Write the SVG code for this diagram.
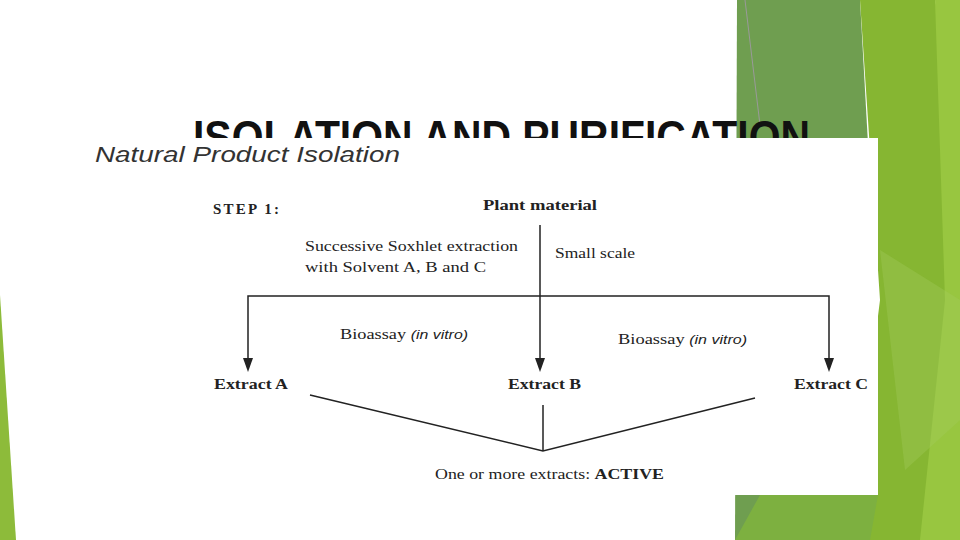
<svg xmlns="http://www.w3.org/2000/svg" width="960" height="540" viewBox="0 0 960 540">
<style>
.s{font-family:"Liberation Serif",serif;font-size:15px;fill:#222}
.b{font-weight:bold}
.i{font-family:"Liberation Sans",sans-serif;font-style:italic;font-size:13px}
.ln{stroke:#222;stroke-width:1.5;fill:none}
.ah{fill:#222}
</style>
<rect width="960" height="540" fill="#fff"/>
<g id="deco">
<polygon points="737,0 860,0 890,540 735,540" fill="#6F9E50"/>
<polygon points="860,0 935,0 960,120 960,540 850,540 880,300" fill="#86B632"/>
<polygon points="935,0 960,0 960,540 920,540 945,300" fill="#98C640"/>
<polygon points="880,250 960,300 960,420 905,470" fill="#A3CC5E" opacity="0.35"/>
<line x1="745" y1="0" x2="760" y2="125" stroke="#999" stroke-width="1"/>
<polygon points="0,295 16,540 0,540" fill="#8DBB3A"/>
<polygon points="760,495 878,495 870,540 735,540" fill="#7DB040"/>
</g>
<text x="193" y="153" font-family="'Liberation Sans',sans-serif" font-weight="bold" font-size="46" textLength="617" lengthAdjust="spacingAndGlyphs" fill="#111">ISOLATION AND PURIFICATION</text>
<rect id="panel" x="80" y="138" width="798" height="357" fill="#fff"/>
<text x="95" y="162" font-family="'Liberation Sans',sans-serif" font-style="italic" font-size="22" textLength="305" lengthAdjust="spacingAndGlyphs" fill="#333">Natural Product Isolation</text>
<g id="step"><text x="213" y="214" class="s b" textLength="66">STEP 1:</text></g>
<g id="plant"><text x="483" y="210" class="s b" textLength="114" lengthAdjust="spacingAndGlyphs">Plant material</text></g>
<g id="labels">
<text x="305" y="251" class="s" textLength="213" lengthAdjust="spacingAndGlyphs">Successive Soxhlet extraction</text>
<text x="305" y="272" class="s" textLength="181" lengthAdjust="spacingAndGlyphs">with Solvent A, B and C</text>
<text x="555" y="258" class="s" textLength="80" lengthAdjust="spacingAndGlyphs">Small scale</text>
<text x="340" y="339" class="s" textLength="128" lengthAdjust="spacingAndGlyphs">Bioassay <tspan class="i">(in vitro)</tspan></text>
<text x="618" y="344" class="s" textLength="129" lengthAdjust="spacingAndGlyphs">Bioassay <tspan class="i">(in vitro)</tspan></text>
</g>
<g id="connectors">
<line x1="540" y1="225" x2="540" y2="365" class="ln" stroke-width="2"/>
<polygon points="535,358 545,358 540,372" class="ah"/>
<polyline points="248,365 248,296 829,296 829,365" class="ln" stroke="#555"/>
<polygon points="243,358 253,358 248,372" class="ah"/>
<polygon points="824,358 834,358 829,372" class="ah"/>
<polyline points="310,395 543,451 755,398" class="ln"/>
<line x1="543" y1="405" x2="543" y2="451" class="ln"/>
</g>
<g id="extA"><text x="214" y="389" class="s b" textLength="74" lengthAdjust="spacingAndGlyphs">Extract A</text></g>
<g id="extB"><text x="508" y="389" class="s b" textLength="73" lengthAdjust="spacingAndGlyphs">Extract B</text></g>
<g id="extC"><text x="794" y="389" class="s b" textLength="74" lengthAdjust="spacingAndGlyphs">Extract C</text></g>
<g id="active"><text x="435" y="479" class="s" textLength="229" lengthAdjust="spacingAndGlyphs">One or more extracts: <tspan class="b">ACTIVE</tspan></text></g>
</svg>
